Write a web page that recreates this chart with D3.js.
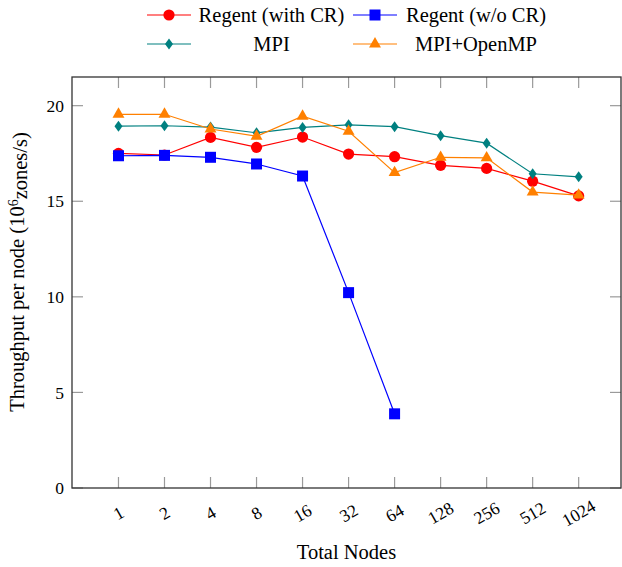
<!DOCTYPE html>
<html>
<head>
<meta charset="utf-8">
<script src="https://cdn.jsdelivr.net/npm/d3@7"></script>
<style>
  body { margin: 0; background: #fff; }
  svg { display: block; }
  text { font-family: "Liberation Serif", "DejaVu Serif", serif; fill: #000; }
</style>
</head>
<body>
<script>
const width = 622, height = 567;

// data
const nodes = [1, 2, 4, 8, 16, 32, 64, 128, 256, 512, 1024];
const regent_cr = [17.5, 17.42, 18.34, 17.82, 18.36, 17.47, 17.33, 16.88, 16.72, 16.05, 15.28];
const regent_nocr = [17.38, 17.4, 17.3, 16.95, 16.32, 10.22, 3.88];
const mpi = [18.93, 18.95, 18.88, 18.58, 18.86, 19.0, 18.9, 18.43, 18.04, 16.44, 16.28];
const mpi_openmp = [19.55, 19.55, 18.78, 18.4, 19.45, 18.66, 16.5, 17.3, 17.27, 15.48, 15.32];
const y_ticks = [0, 5, 10, 15, 20];

const series = [
  {name: "Regent (with CR)", values: regent_cr, color: "#ff0000", mark: "circle"},
  {name: "Regent (w/o CR)", values: regent_nocr, color: "#0000ff", mark: "square"},
  {name: "MPI", values: mpi, color: "#008080", mark: "diamond"},
  {name: "MPI+OpenMP", values: mpi_openmp, color: "#ff8000", mark: "triangle"}
];

const plot = {left: 72, right: 621, top: 77, bottom: 488};

const svg = d3.select("body").append("svg")
  .attr("width", width)
  .attr("height", height);

const x = d3.scaleLinear()
  .domain([-1.01, 10.92])
  .range([plot.left, plot.right]);

const y = d3.scaleLinear()
  .domain([0, 21.5])
  .range([plot.bottom, plot.top]);

const tick_len = 11;
const tick_color = "#9a9a9a";

// ticks (inward, mirrored on both sides)
const ticks_g = svg.append("g").attr("id", "ticks");
nodes.forEach((n, i) => {
  ticks_g.append("line")
    .attr("x1", x(i)).attr("x2", x(i))
    .attr("y1", plot.bottom).attr("y2", plot.bottom - tick_len)
    .attr("stroke", tick_color).attr("stroke-width", 1.2);
  ticks_g.append("line")
    .attr("x1", x(i)).attr("x2", x(i))
    .attr("y1", plot.top).attr("y2", plot.top + tick_len)
    .attr("stroke", tick_color).attr("stroke-width", 1.2);
});
y_ticks.forEach(v => {
  ticks_g.append("line")
    .attr("x1", plot.left).attr("x2", plot.left + tick_len)
    .attr("y1", y(v)).attr("y2", y(v))
    .attr("stroke", tick_color).attr("stroke-width", 1.2);
  ticks_g.append("line")
    .attr("x1", plot.right).attr("x2", plot.right - tick_len)
    .attr("y1", y(v)).attr("y2", y(v))
    .attr("stroke", tick_color).attr("stroke-width", 1.2);
});

// frame
svg.append("rect")
  .attr("x", plot.left).attr("y", plot.top)
  .attr("width", plot.right - plot.left)
  .attr("height", plot.bottom - plot.top)
  .attr("fill", "none")
  .attr("stroke", "#333")
  .attr("stroke-width", 1.3);

// tick labels
svg.append("g")
  .selectAll("text")
  .data(y_ticks)
  .enter().append("text")
    .attr("x", plot.left - 8)
    .attr("y", d => y(d))
    .attr("dy", "0.35em")
    .attr("text-anchor", "end")
    .style("font-size", "17.5px")
    .text(d => d);

svg.append("g")
  .selectAll("text")
  .data(nodes)
  .enter().append("text")
    .attr("transform", (d, i) => `translate(${x(i)}, 513) rotate(-30)`)
    .attr("dy", "0.35em")
    .attr("text-anchor", "middle")
    .style("font-size", "17.5px")
    .text(d => d);

// axis titles
svg.append("text")
  .attr("x", (plot.left + plot.right) / 2)
  .attr("y", 559)
  .attr("text-anchor", "middle")
  .style("font-size", "20.5px")
  .text("Total Nodes");

const ytitle = svg.append("text")
  .attr("transform", `translate(24, 272) rotate(-90)`)
  .attr("text-anchor", "middle")
  .style("font-size", "20.5px");
ytitle.append("tspan").text("Throughput per node (10");
ytitle.append("tspan").attr("dy", "-0.45em").style("font-size", "14px").text("6");
ytitle.append("tspan").attr("dy", "0.45em").text("zones/s)");

// marker drawing
const symbol_of = {
  circle: d3.symbol().type(d3.symbolCircle).size(Math.PI * 5.6 * 5.6),
  square: d3.symbol().type(d3.symbolSquare).size(11 * 11),
  triangle: d3.symbol().type(d3.symbolTriangle).size(62),
};
function draw_mark(g, mark, color, cx, cy) {
  if (mark === "diamond") {
    g.append("path")
      .attr("d", `M${cx},${cy - 5.5}L${cx + 4},${cy}L${cx},${cy + 5.5}L${cx - 4},${cy}Z`)
      .attr("fill", color);
  } else {
    g.append("path")
      .attr("transform", `translate(${cx},${cy})`)
      .attr("d", symbol_of[mark]())
      .attr("fill", color);
  }
}

const line = d3.line()
  .x((d, i) => x(i))
  .y(d => y(d));

const lines_g = svg.append("g").attr("id", "series");
series.forEach(s => {
  const g = lines_g.append("g");
  g.append("path")
    .attr("d", line(s.values))
    .attr("fill", "none")
    .attr("stroke", s.color)
    .attr("stroke-width", 1.2);
  s.values.forEach((v, i) => draw_mark(g, s.mark, s.color, x(i), y(v)));
});

// legend, 2 columns
const legend_cols = [{line: [147, 191], mark: 169, text: 271.5},
                     {line: [353, 397], mark: 375, text: 476}];
const legend_rows = [15, 44];
const legend = svg.append("g").attr("id", "legend");
series.forEach((s, k) => {
  const col = legend_cols[k % 2];
  const cy = legend_rows[Math.floor(k / 2)];
  legend.append("line")
    .attr("x1", col.line[0]).attr("x2", col.line[1])
    .attr("y1", cy).attr("y2", cy)
    .attr("stroke", s.color)
    .attr("stroke-width", 1.2);
  draw_mark(legend, s.mark, s.color, col.mark, cy);
  legend.append("text")
    .attr("x", col.text)
    .attr("y", cy)
    .attr("dy", "0.33em")
    .attr("text-anchor", "middle")
    .style("font-size", "20.5px")
    .text(s.name);
});
</script>
</body>
</html>
